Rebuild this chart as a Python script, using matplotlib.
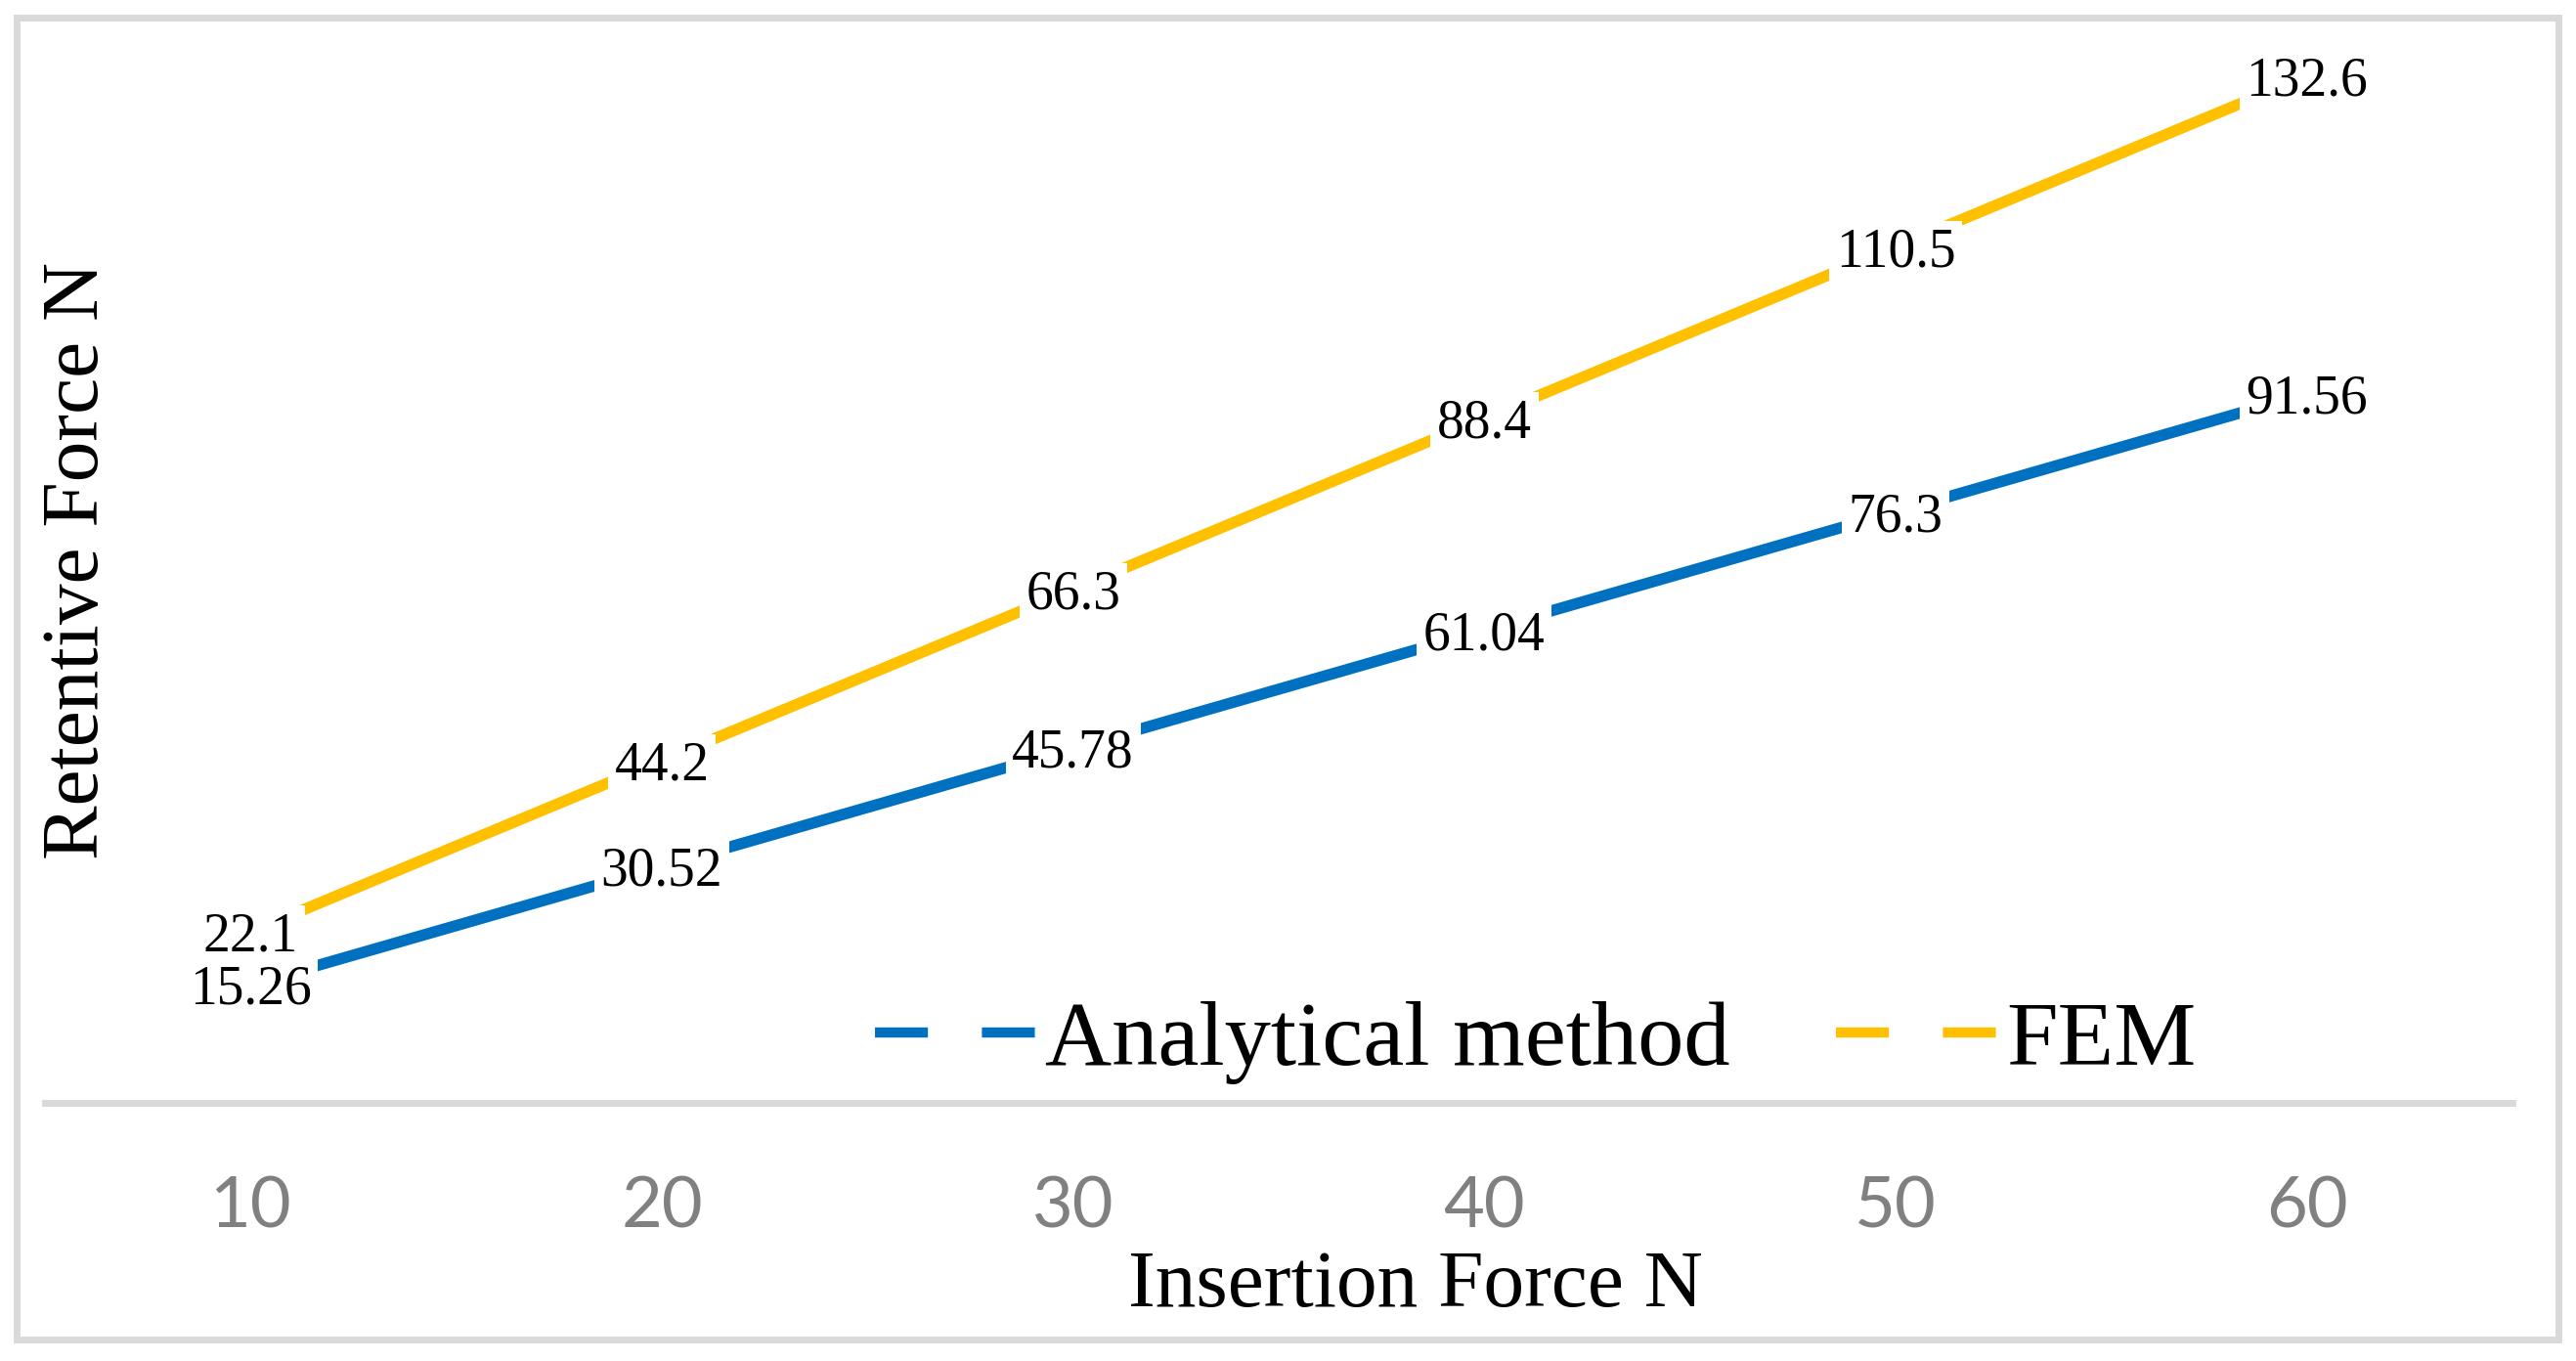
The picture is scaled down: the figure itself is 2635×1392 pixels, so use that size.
import matplotlib
matplotlib.use("Agg")
import matplotlib.pyplot as plt
from matplotlib.patches import Rectangle

# ---- data ----
categories = ["10", "20", "30", "40", "50", "60"]
analytical = [15.26, 30.52, 45.78, 61.04, 76.3, 91.56]
fem = [22.1, 44.2, 66.3, 88.4, 110.5, 132.6]
analytical_labels = ["15.26", "30.52", "45.78", "61.04", "76.3", "91.56"]
fem_labels = ["22.1", "44.2", "66.3", "88.4", "110.5", "132.6"]
series_names = ["Analytical method", "FEM"]
x_title = "Insertion Force N"
y_title = "Retentive Force N"

W, H = 2635, 1392
DPI = 100
fig = plt.figure(figsize=(W / DPI, H / DPI), dpi=DPI)
fig.patch.set_facecolor("white")

serif = "Liberation Serif"
BLUE = "#0070C0"
GOLD = "#FFC000"
GRID = "#D9D9D9"

def fx(px):
    return px / W

def fy(py):
    return 1 - py / H

# axes placement (pixels from top-left)
ax_left, ax_right, ax_top, ax_bottom = 46, 2570, 19, 1128
ax = fig.add_axes([fx(ax_left), fy(ax_bottom), fx(ax_right) - fx(ax_left),
                   fy(ax_top) - fy(ax_bottom)])
ax.set_facecolor("none")

xs = list(range(len(categories)))
lw = 8.3
l1, = ax.plot(xs, analytical, color=BLUE, lw=lw, solid_capstyle="butt",
              label=series_names[0], zorder=2)
l2, = ax.plot(xs, fem, color=GOLD, lw=lw, solid_capstyle="butt",
              label=series_names[1], zorder=2)

ax.set_xlim(-0.5, len(categories) - 0.5)
ax.set_ylim(0, 140)

for spine in ["top", "left", "right"]:
    ax.spines[spine].set_visible(False)
ax.spines["bottom"].set_color(GRID)
ax.spines["bottom"].set_linewidth(5)
ax.set_yticks([])
ax.set_xticks(xs)
ax.set_xticklabels(categories, fontfamily="Lato", fontsize=52, color="#808080")
ax.tick_params(axis="x", length=0, pad=54)

# data labels centered on points with white background
lab_kw = dict(fontfamily=serif, fontsize=40, color="black", ha="center",
              va="center", textcoords="offset points", xytext=(0, -4),
              bbox=dict(boxstyle="square,pad=0.12", fc="white", ec="none"),
              zorder=4, annotation_clip=False)
for x, v, t in zip(xs, fem, fem_labels):
    ax.annotate(t, (x, v), **lab_kw)
for x, v, t in zip(xs, analytical, analytical_labels):
    ax.annotate(t, (x, v), **lab_kw)

# axis titles
fig.text(fx(1448), fy(1336), x_title, fontfamily=serif, fontsize=60,
         ha="center", va="baseline")
fig.text(fx(80), fy(573), y_title, fontfamily=serif, fontsize=60,
         ha="center", va="center", rotation=90)

# legend
leg = fig.legend(handles=[l1, l2], labels=series_names, loc="center left",
                 bbox_to_anchor=(fx(895), fy(1066)), ncol=2, frameon=False,
                 prop={"family": serif, "size": 68}, handlelength=1.74,
                 handletextpad=0.1, columnspacing=1.15, borderpad=0,
                 borderaxespad=0)
for ln in leg.get_lines():
    ln.set_linewidth(7.5)
    ln.set_linestyle((0, (5.2, 5.3)))
    ln.set_dash_capstyle("butt")

# outer chart border
fig.add_artist(Rectangle((fx(16.5), fy(1370)), fx(2600), (1352) / H,
                         transform=fig.transFigure, fill=False,
                         ec=GRID, lw=5, zorder=0))

fig.savefig("out.png", dpi=DPI, facecolor="white")
